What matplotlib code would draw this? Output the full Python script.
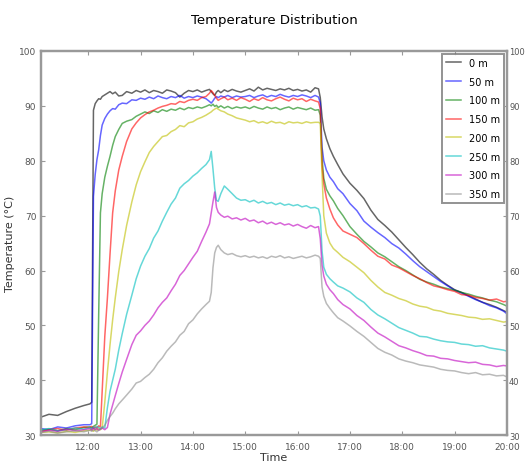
import matplotlib
matplotlib.use("Agg")
import matplotlib.pyplot as plt
import matplotlib.dates as mdates
import pandas as pd

# logging times (same clock for every depth)
times = [
    "11:06", "11:15", "11:25", "11:35", "11:45", "11:55",
    "12:02", "12:04", "12:06", "12:08", "12:10", "12:12", "12:14", "12:16", "12:19", "12:22",
    "12:25", "12:28", "12:31", "12:35", "12:39", "12:44", "12:50", "12:55",
    "13:00", "13:05", "13:10", "13:15", "13:20", "13:25", "13:30", "13:35", "13:40", "13:45", "13:50", "13:55",
    "14:00", "14:05", "14:10", "14:15", "14:19", "14:21", "14:23", "14:25", "14:27", "14:29",
    "14:32", "14:36", "14:40", "14:45", "14:50", "14:55",
    "15:00", "15:05", "15:10", "15:15", "15:20", "15:25", "15:30", "15:35", "15:40", "15:45", "15:50", "15:55",
    "16:00", "16:05", "16:10", "16:15", "16:20",
    "16:24", "16:26", "16:28", "16:30", "16:33", "16:37", "16:41", "16:46", "16:52",
    "17:00", "17:08", "17:16", "17:24", "17:32", "17:40", "17:48", "17:56",
    "18:04", "18:12", "18:20", "18:28", "18:36", "18:44", "18:52",
    "19:00", "19:08", "19:16", "19:24", "19:32", "19:40", "19:48", "19:56", "20:00",
]

temp_0m = [
    33.3, 33.8, 33.6, 34.3, 34.9, 35.4,
    35.7, 36.0, 89.2, 90.4, 90.9, 91.3, 91.2, 91.7, 92.0, 92.3,
    92.6, 92.2, 92.5, 91.8, 91.9, 92.6, 92.3, 92.8,
    92.5, 92.9, 92.4, 92.8, 92.6, 92.3, 92.9, 92.7, 92.4, 91.6, 92.3, 92.8,
    92.6, 92.9, 92.5, 92.8, 93.0, 92.6, 92.2, 91.9, 92.5, 92.8,
    92.4, 92.9, 92.6, 93.0, 92.7, 92.5,
    92.8, 93.1, 92.7, 93.4, 92.9, 93.2, 93.0, 92.8, 93.1, 92.9, 93.2, 92.8,
    93.0, 92.7, 92.9, 92.5, 93.3,
    93.1, 91.5, 88.0, 85.8, 84.0, 82.2, 80.8, 79.3, 77.6,
    75.9, 74.6, 73.1, 71.0, 69.3, 68.2, 67.0, 65.6,
    64.2, 62.9, 61.5, 60.3, 59.3, 58.2, 57.3,
    56.5, 56.0, 55.4, 54.8, 54.2, 53.8, 53.3, 52.7, 52.4,
]
temp_50m = [
    31.2, 31.0, 31.5, 31.3, 31.7, 31.9,
    31.9, 32.1, 73.5, 77.5, 80.2, 82.0, 84.6, 86.5, 87.7, 88.5,
    89.1, 89.5, 89.4, 90.2, 90.5, 90.4, 91.1, 91.0,
    91.4, 91.2, 91.6, 91.3, 91.8, 91.5, 91.3, 91.7, 91.5, 91.9, 91.4, 91.7,
    91.5, 91.8, 91.6, 91.3, 90.8, 90.5, 90.9, 91.4, 91.7, 91.5,
    91.8, 91.6, 91.9, 91.5, 91.8, 91.6,
    91.7, 91.9, 91.5, 91.8, 92.0, 91.6, 91.9, 91.7, 92.1, 91.8, 91.6, 91.9,
    91.7, 92.0, 91.8, 91.5, 91.9,
    91.6, 90.5, 82.5, 80.0, 78.3, 77.0, 76.2, 74.9, 74.0,
    72.2, 70.9, 69.0, 67.9, 66.9, 66.0, 64.9, 64.1,
    63.0, 61.8, 60.7, 59.8, 58.9, 58.0, 57.2,
    56.4, 55.9, 55.3, 54.7, 54.2, 53.6, 53.2, 52.6, 52.1,
]
temp_100m = [
    30.9, 31.1, 30.8, 31.2, 31.0, 31.4,
    31.5, 31.3, 31.6, 31.8, 32.0, 52.0, 70.5, 74.0, 77.0, 79.0,
    80.8, 82.8, 84.4, 85.7, 86.8, 87.2, 87.5, 88.1,
    88.5, 88.9, 88.6, 89.1, 88.8, 89.3, 89.0, 89.4, 89.2, 89.6, 89.3, 89.7,
    89.5, 89.8, 89.6, 89.9, 90.2, 90.0, 90.3, 89.9, 90.1, 89.7,
    90.0, 89.6, 89.9, 89.5, 89.8, 89.6,
    89.8, 89.5, 89.9, 89.6, 89.4, 89.8, 89.5, 89.7, 89.3, 89.6, 89.8, 89.4,
    89.7, 89.5, 89.3, 89.6, 89.2,
    89.3, 88.3, 80.5, 76.8, 74.8, 73.6, 72.7, 71.3, 70.0,
    68.0, 66.6, 65.3, 64.3, 63.2, 62.5, 61.6, 60.7,
    60.0, 59.2, 58.4, 57.9, 57.5, 57.0, 56.7,
    56.4, 56.0, 55.7, 55.3, 55.0, 54.6, 54.3, 53.8, 53.5,
]
temp_150m = [
    30.7, 31.0, 31.2, 30.9, 31.3, 31.5,
    31.4, 31.6, 31.2, 31.5, 31.3, 31.7, 31.5, 38.0, 48.0, 55.0,
    63.0, 70.5, 74.5, 78.3, 80.8, 83.5, 85.8, 86.9,
    87.8, 88.4, 88.9, 89.2, 89.6, 89.9, 90.1, 90.4, 90.3, 90.8, 90.6, 91.0,
    91.2, 91.0, 91.5, 91.7, 92.3, 92.8, 92.4, 91.9, 91.4, 91.0,
    91.3, 91.6, 91.1, 91.4, 91.0, 91.5,
    91.2, 90.8, 91.3, 91.0, 91.5, 91.1, 90.9, 91.3, 91.6, 91.2, 90.9, 91.4,
    91.1, 91.3, 90.8, 91.2, 90.9,
    90.7, 89.5, 79.0, 75.8, 73.2, 71.2, 69.6, 68.3, 67.2,
    66.6, 66.0, 64.9, 63.7, 62.6, 62.1, 61.0, 60.5,
    59.8, 59.1, 58.5, 57.8, 57.2, 56.9, 56.5,
    56.2, 55.6, 55.5, 55.1, 54.9, 54.6, 54.8, 54.3, 54.4,
]
temp_200m = [
    30.5, 30.6, 30.4, 30.7, 30.5, 30.8,
    30.9, 31.0, 30.7, 31.1, 30.9, 31.2, 31.0, 31.3, 36.0, 41.5,
    46.5, 51.0, 55.0, 59.8, 63.8, 68.2, 72.5, 75.6,
    78.0, 79.8, 81.5, 82.6, 83.5, 84.4, 84.6, 85.3, 85.7, 86.4, 86.2, 86.9,
    87.1, 87.6, 87.9, 88.3, 88.7, 88.9, 89.2, 89.4, 89.6, 89.4,
    89.1, 88.9, 88.5, 88.2, 87.8, 87.6,
    87.4, 87.1, 87.3, 86.9, 87.1, 86.8, 87.2, 86.9, 87.0, 86.7, 87.1, 86.9,
    87.0, 86.8, 87.1, 86.9, 87.0,
    87.0, 86.8, 77.5, 70.0, 66.8, 65.0, 64.0, 63.3, 62.4,
    61.6, 60.6, 59.6, 58.2, 57.0, 56.0, 55.5, 54.9,
    54.5, 53.9, 53.5, 53.3, 52.8, 52.6, 52.2,
    52.0, 51.8, 51.5, 51.4, 51.1, 51.2, 50.9, 50.6, 50.7,
]
temp_250m = [
    30.9, 31.2, 30.8, 31.0, 31.3, 31.1,
    31.4, 31.2, 31.5, 31.3, 31.6, 31.4, 31.2, 31.5, 31.3, 35.0,
    38.0, 40.0, 42.0, 45.5, 48.5, 52.0, 55.5, 58.5,
    60.8, 62.6, 64.0, 65.9, 67.2, 69.0, 70.6, 72.1, 73.2, 75.0, 75.8, 76.4,
    77.2, 77.8, 78.6, 79.3, 80.2, 81.7, 78.5, 75.0, 72.8, 72.6,
    74.0, 75.4, 74.8, 74.0, 73.2, 72.8,
    72.9, 72.5, 72.8, 72.3, 72.6, 72.2, 72.4, 72.0, 72.3, 71.9, 72.1, 71.8,
    72.0, 71.6, 71.8, 71.4, 71.5,
    71.2, 69.9, 63.6, 60.6, 59.3, 58.5, 57.9, 57.2, 56.8,
    56.1, 55.0, 54.2, 52.9, 51.9, 51.2, 50.4, 49.6,
    49.1, 48.6, 48.0, 47.9, 47.5, 47.2, 47.0,
    46.9, 46.6, 46.5, 46.2, 46.3, 45.9, 45.7, 45.5, 45.3,
]
temp_300m = [
    30.6, 30.9, 30.7, 31.1, 30.8, 31.0,
    31.2, 30.9, 31.3, 31.0, 31.2, 30.9, 31.1, 31.3, 31.0, 31.4,
    33.8, 35.5, 37.2, 39.4, 41.5, 43.8, 46.5, 48.2,
    49.0, 50.0, 50.8, 51.9, 53.2, 54.2, 55.0, 56.3, 57.5, 59.1, 60.0, 61.2,
    62.4, 63.5, 65.3, 67.0, 68.5, 70.5, 72.5, 74.3, 71.5, 70.6,
    70.1, 69.7, 69.9, 69.4, 69.6, 69.2,
    69.5, 69.0, 69.2, 68.7, 69.0, 68.5, 68.8, 68.4, 68.7, 68.3, 68.5, 68.1,
    68.4, 68.0, 67.7, 68.2, 67.8,
    68.0, 65.8, 61.0, 59.0, 57.5, 56.5, 55.8, 54.7, 53.8,
    53.0, 51.8, 50.9, 49.7, 48.6, 47.9, 47.1, 46.3,
    45.9, 45.4, 45.0, 44.5, 44.4, 44.0, 43.9,
    43.6, 43.4, 43.2, 43.3, 42.9, 42.8, 42.5, 42.7, 42.6,
]
temp_350m = [
    30.5, 30.7, 30.4, 30.6, 30.8, 30.6,
    30.9, 30.7, 31.0, 30.8, 30.6, 30.9, 31.1, 31.3, 31.8, 32.7,
    33.4, 34.0, 34.8, 35.7, 36.4, 37.3, 38.4, 39.5,
    39.8, 40.5, 41.1, 42.0, 43.2, 44.1, 45.3, 46.2, 47.0, 48.2, 48.9, 50.3,
    51.0, 52.1, 53.0, 53.8, 54.4, 56.0, 60.5, 63.2, 64.2, 64.6,
    63.8, 63.2, 62.9, 63.1, 62.7, 62.5,
    62.7, 62.4, 62.6, 62.3, 62.5, 62.2, 62.6, 62.4, 62.7, 62.3, 62.5, 62.2,
    62.4, 62.6, 62.3, 62.5, 62.8,
    62.6, 62.2, 57.0, 55.3, 54.0, 53.1, 52.3, 51.4, 50.8,
    49.9, 48.9, 48.0, 46.9, 45.8, 45.1, 44.6, 43.9,
    43.5, 43.2, 42.8, 42.6, 42.4, 42.0, 41.8,
    41.7, 41.4, 41.2, 41.4, 41.0, 41.1, 40.8, 40.9, 40.6,
]

depth_labels = ["0 m", "50 m", "100 m", "150 m", "200 m", "250 m", "300 m", "350 m"]
depth_series = [temp_0m, temp_50m, temp_100m, temp_150m,
                temp_200m, temp_250m, temp_300m, temp_350m]
line_colors = ["k", "b", "g", "r", "y", "c", "m", "0.55"]


def to_datetime(clock):
    return pd.to_datetime(["2000-01-01 " + c for c in clock])


def plot_temperatures():
    t = to_datetime(times)
    fig = plt.figure(figsize=(5.27, 4.64), dpi=100)
    ax = fig.add_axes([0.078, 0.060, 0.884, 0.828])

    for label, temps, color in zip(depth_labels, depth_series, line_colors):
        assert len(temps) == len(t), label
        ax.plot(t, temps, color=color, alpha=0.6, linewidth=1.1, label=label)

    x0, x1 = to_datetime(["11:06", "20:00"])
    ax.set_xlim(x0, x1)
    ax.set_ylim(30, 100)
    ax.set_yticks(range(30, 101, 10))
    ax.xaxis.set_major_locator(mdates.HourLocator())
    ax.xaxis.set_major_formatter(mdates.DateFormatter("%H:%M"))

    ax2 = ax.twinx()
    ax2.set_ylim(30, 100)
    ax2.set_yticks(range(30, 101, 10))

    for a in (ax, ax2):
        for spine in a.spines.values():
            spine.set_color("#999999")
            spine.set_linewidth(1.6)
        a.tick_params(direction="in", labelsize=6.5, labelcolor="#555555",
                      color="#999999", length=3)
    ax.tick_params(axis="x", top=True, pad=5)
    ax2.tick_params(axis="y", pad=1.5, labelsize=6)

    ax.set_title("Temperature Distribution", fontsize=9.5, pad=20)
    ax.set_xlabel("Time", fontsize=8, color="#333333", labelpad=1)
    ax.set_ylabel("Temperature (°C)", fontsize=8, color="#333333", labelpad=3)

    leg = ax.legend(loc="upper right", fontsize=7, handlelength=1.6,
                    labelspacing=0.9, borderaxespad=0.3, fancybox=False)
    leg.get_frame().set_edgecolor("#777777")
    leg.get_frame().set_linewidth(1.4)

    fig.savefig("out.png", dpi=100)


if __name__ == "__main__":
    plot_temperatures()
